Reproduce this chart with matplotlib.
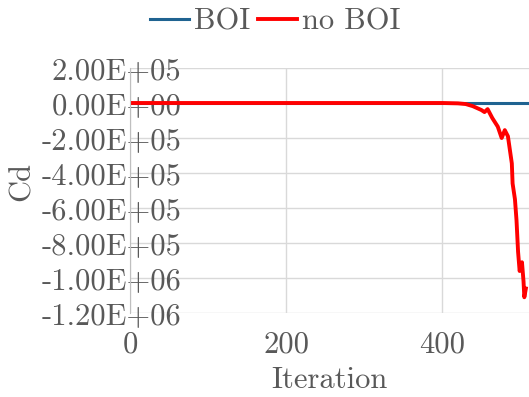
import matplotlib
matplotlib.use('Agg')
import matplotlib.pyplot as plt

# Cd por iteração, com e sem BOI
it_boi = [0, 100, 200, 300, 400, 511]
cd_boi = [0, 0, 0, 0, 0, 0]

it_noboi = [0, 100, 200, 300, 400, 420, 430, 439, 450, 454, 458, 464, 471,
            476, 480, 484, 489, 490, 493, 494, 495, 497, 499, 502, 504, 505,
            507]
cd_noboi = [0, 0, 0, 0, 0, -2e3, -6e3, -1.8e4, -4e4, -5.2e4, -3.5e4, -8.6e4,
            -1.35e5, -2.0e5, -1.55e5, -1.9e5, -3.45e5, -4.6e5, -5.5e5, -6.1e5,
            -6.7e5, -8.5e5, -9.6e5, -9.1e5, -1.02e6, -1.11e6, -1.06e6]

yticks = [2e5, 0, -2e5, -4e5, -6e5, -8e5, -1e6, -1.2e6]
ylabels = ['2.00E+05', '0.00E+00', '-2.00E+05', '-4.00E+05', '-6.00E+05',
           '-8.00E+05', '-1.00E+06', '-1.20E+06']
xticks = [0, 200, 400]

cinza = '#595959'
fs = 22
plt.rcParams['font.family'] = ['cmr10', 'DejaVu Serif']
plt.rcParams['axes.unicode_minus'] = False

fig = plt.figure(figsize=(5.29, 3.97), dpi=100)
ax = fig.add_axes([130/529, 1 - 313/397, 1 - 130/529, (313 - 68)/397])

ax.plot(it_boi, cd_boi, color='#1F6391', lw=2.2, label='BOI')
ax.plot(it_noboi, cd_noboi, color='#FF0000', lw=2.8, label='no BOI')

ax.set_xlim(0, 511)
ax.set_ylim(-1.2e6, 2e5)
ax.set_xticks(xticks)
ax.set_xticklabels([str(x) for x in xticks])
ax.set_yticks(yticks)
ax.set_yticklabels(ylabels)

ax.grid(True, color='#d9d9d9', lw=1)
ax.set_axisbelow(True)
for lado in ['top', 'right', 'bottom']:
    ax.spines[lado].set_visible(False)
ax.spines['left'].set_color('#bfbfbf')

ax.tick_params(axis='y', length=0, pad=-37, labelsize=fs, colors=cinza)
ax.tick_params(axis='x', length=0, pad=13, labelsize=fs, colors=cinza)
for t in ax.get_yticklabels():
    t.set_horizontalalignment('right')

ax.set_xlabel('Iteration', fontsize=fs, color=cinza, labelpad=6)
fig.text(22/529, 1 - 181/397, 'Cd', rotation=90, fontsize=fs,
         color=cinza, ha='center', va='center')

fig.legend(loc='center', bbox_to_anchor=(275/529, 1 - 22/397), ncol=2,
           frameon=False, fontsize=fs, handlelength=1.3, handletextpad=0.15,
           columnspacing=0.25, labelcolor=cinza)

fig.savefig('out.png', dpi=100)
